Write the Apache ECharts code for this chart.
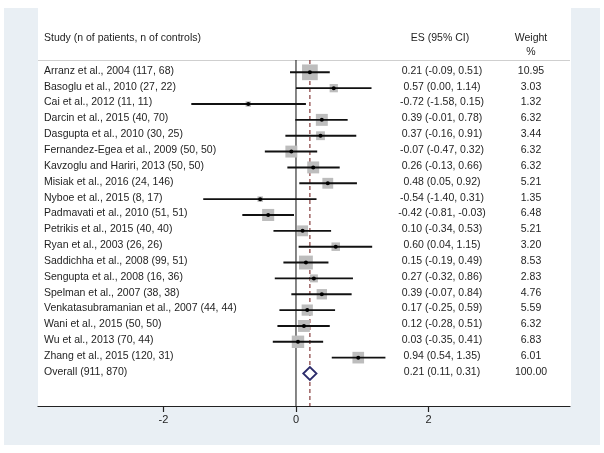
<!DOCTYPE html>
<html><head><meta charset="utf-8">
<script src="https://cdn.jsdelivr.net/npm/echarts@6/dist/echarts.min.js"></script>
<style>html,body{margin:0;padding:0;background:#fff}#c{width:604px;height:453px}</style>
</head><body><div id="c"></div><script>
const studies = [
  'Arranz et al., 2004 (117, 68)',
  'Basoglu et al., 2010 (27, 22)',
  'Cai et al., 2012 (11, 11)',
  'Darcin et al., 2015 (40, 70)',
  'Dasgupta et al., 2010 (30, 25)',
  'Fernandez-Egea et al., 2009 (50, 50)',
  'Kavzoglu and Hariri, 2013 (50, 50)',
  'Misiak et al., 2016 (24, 146)',
  'Nyboe et al., 2015 (8, 17)',
  'Padmavati et al., 2010 (51, 51)',
  'Petrikis et al., 2015 (40, 40)',
  'Ryan et al., 2003 (26, 26)',
  'Saddichha et al., 2008 (99, 51)',
  'Sengupta et al., 2008 (16, 36)',
  'Spelman et al., 2007 (38, 38)',
  'Venkatasubramanian et al., 2007 (44, 44)',
  'Wani et al., 2015 (50, 50)',
  'Wu et al., 2013 (70, 44)',
  'Zhang et al., 2015 (120, 31)'
];
const es      = [0.21, 0.57, -0.72, 0.39, 0.37, -0.07, 0.26, 0.48, -0.54, -0.42, 0.10, 0.60, 0.15, 0.27, 0.39, 0.17, 0.12, 0.03, 0.94];
const lower   = [-0.09, 0.00, -1.58, -0.01, -0.16, -0.47, -0.13, 0.05, -1.40, -0.81, -0.34, 0.04, -0.19, -0.32, -0.07, -0.25, -0.28, -0.35, 0.54];
const upper   = [0.51, 1.14, 0.15, 0.78, 0.91, 0.32, 0.66, 0.92, 0.31, -0.03, 0.53, 1.15, 0.49, 0.86, 0.84, 0.59, 0.51, 0.41, 1.35];
const weights = [10.95, 3.03, 1.32, 6.32, 3.44, 6.32, 6.32, 5.21, 1.35, 6.48, 5.21, 3.20, 8.53, 2.83, 4.76, 5.59, 6.32, 6.83, 6.01];
const overallLabel = 'Overall (911, 870)';
const overallValues = [0.21, 0.11, 0.31, 100.00]; // es, lower, upper, weight
const xTicks = [-2, 0, 2];
const headers = ['Study (n of patients, n of controls)', 'ES (95% CI)', 'Weight', '%'];

const FONT = '10.5px "Liberation Sans", Arial, sans-serif';
const TXT = '#1e1e1e';
function fmt(v){ return v.toFixed(2); }

const rows = studies.map((s, i) => [i, es[i], lower[i], upper[i], weights[i], 0]);
rows.push([studies.length, overallValues[0], overallValues[1], overallValues[2], overallValues[3], 1]);
const labels = studies.concat([overallLabel]);

function renderRow(params, api) {
  const i = api.value(0), e = api.value(1), lo = api.value(2), hi = api.value(3), w = api.value(4), isOverall = api.value(5);
  const cs = params.coordSys;
  const p = api.coord([e, i]);
  const pl = api.coord([lo, i]);
  const ph = api.coord([hi, i]);
  const y = p[1];
  const children = [];
  const esText = fmt(e) + ' (' + fmt(lo) + ', ' + fmt(hi) + ')';
  const tY = y - 1.5;
  children.push({type:'text', style:{text: labels[i], x: cs.x + 6, y: tY, font: FONT, fill: TXT, textAlign:'left', textVerticalAlign:'middle'}});
  children.push({type:'text', style:{text: esText, x: cs.x + cs.width - 128, y: tY, font: FONT, fill: TXT, textAlign:'center', textVerticalAlign:'middle'}});
  children.push({type:'text', style:{text: fmt(w), x: cs.x + cs.width - 39, y: tY, font: FONT, fill: TXT, textAlign:'center', textVerticalAlign:'middle'}});
  if (isOverall) {
    const hh = 6.5;
    children.push({type:'polygon', shape:{points:[[pl[0], y],[p[0], y-hh],[ph[0], y],[p[0], y+hh]]},
      style:{fill:'#fff', stroke:'#2b2b6b', lineWidth:1.8}, z2: 5});
  } else {
    const side = 4.75 * Math.sqrt(w);
    children.push({type:'rect', shape:{x: p[0]-side/2, y: y-side/2, width: side, height: side}, style:{fill:'#bdbdbd'}, z2: 1});
    children.push({type:'line', shape:{x1: pl[0], y1: y, x2: ph[0], y2: y}, style:{stroke:'#111', lineWidth:1.9}, z2: 3});
    children.push({type:'circle', shape:{cx: p[0], cy: y, r: 2}, style:{fill:'#000'}, z2: 4});
  }
  return {type:'group', children};
}

function renderRef(params, api) {
  const cs = params.coordSys;
  const x = api.coord([api.value(0), 0])[0];
  const dashed = api.value(1) === 1;
  return {type:'line', shape:{x1:x, y1: cs.y + 52, x2:x, y2: cs.y + cs.height},
    style: dashed ? {stroke:'#7a2a2a', lineWidth:1.1, lineDash:[4,3]} : {stroke:'#222', lineWidth:1.1}};
}

const chart = echarts.init(document.getElementById('c'), null, {renderer:'canvas'});
chart.setOption({
  backgroundColor: '#fff',
  animation: false,
  graphic: [
    {type:'rect', z:-100, shape:{x:4, y:8, width:596, height:437}, style:{fill:'#e9eff4'}},
    {type:'rect', z:-99, shape:{x:38, y:8, width:533, height:398}, style:{fill:'#fff'}},
    {type:'line', z:-98, shape:{x1:38, y1:60.5, x2:570, y2:60.5}, style:{stroke:'#cfcfcf', lineWidth:1}},
    {type:'text', style:{text: headers[0], x:44, y:38, font: FONT, fill: TXT, textAlign:'left', textVerticalAlign:'middle'}},
    {type:'text', style:{text: headers[1], x:440, y:38, font: FONT, fill: TXT, textAlign:'center', textVerticalAlign:'middle'}},
    {type:'text', style:{text: headers[2], x:531, y:38, font: FONT, fill: TXT, textAlign:'center', textVerticalAlign:'middle'}},
    {type:'text', style:{text: headers[3], x:531, y:52, font: FONT, fill: TXT, textAlign:'center', textVerticalAlign:'middle'}}
  ],
  grid: {left:38, right:34, top:8, bottom:47, containLabel:false},
  xAxis: {
    type:'value', min:-3.894, max:4.136,
    splitLine:{show:false},
    axisLine:{show:true, onZero:false, lineStyle:{color:'#222', width:1.2}},
    axisTick:{show:true, length:6, customValues: xTicks, lineStyle:{color:'#222', width:1.2}},
    axisLabel:{show:true, customValues: xTicks, color:'#1e1e1e', fontSize:11, margin:8, fontFamily:'"Liberation Sans", Arial, sans-serif'}
  },
  yAxis: {type:'value', inverse:true, min:-4.057, max:21.05, show:false},
  series: [
    {type:'custom', renderItem: renderRef, data:[[0, 0],[overallValues[0], 1]], encode:{x:0}, z:1, silent:true},
    {type:'custom', renderItem: renderRow, data: rows, encode:{x:[1,2,3], y:0}, z:2, silent:true}
  ]
});
</script></body></html>
